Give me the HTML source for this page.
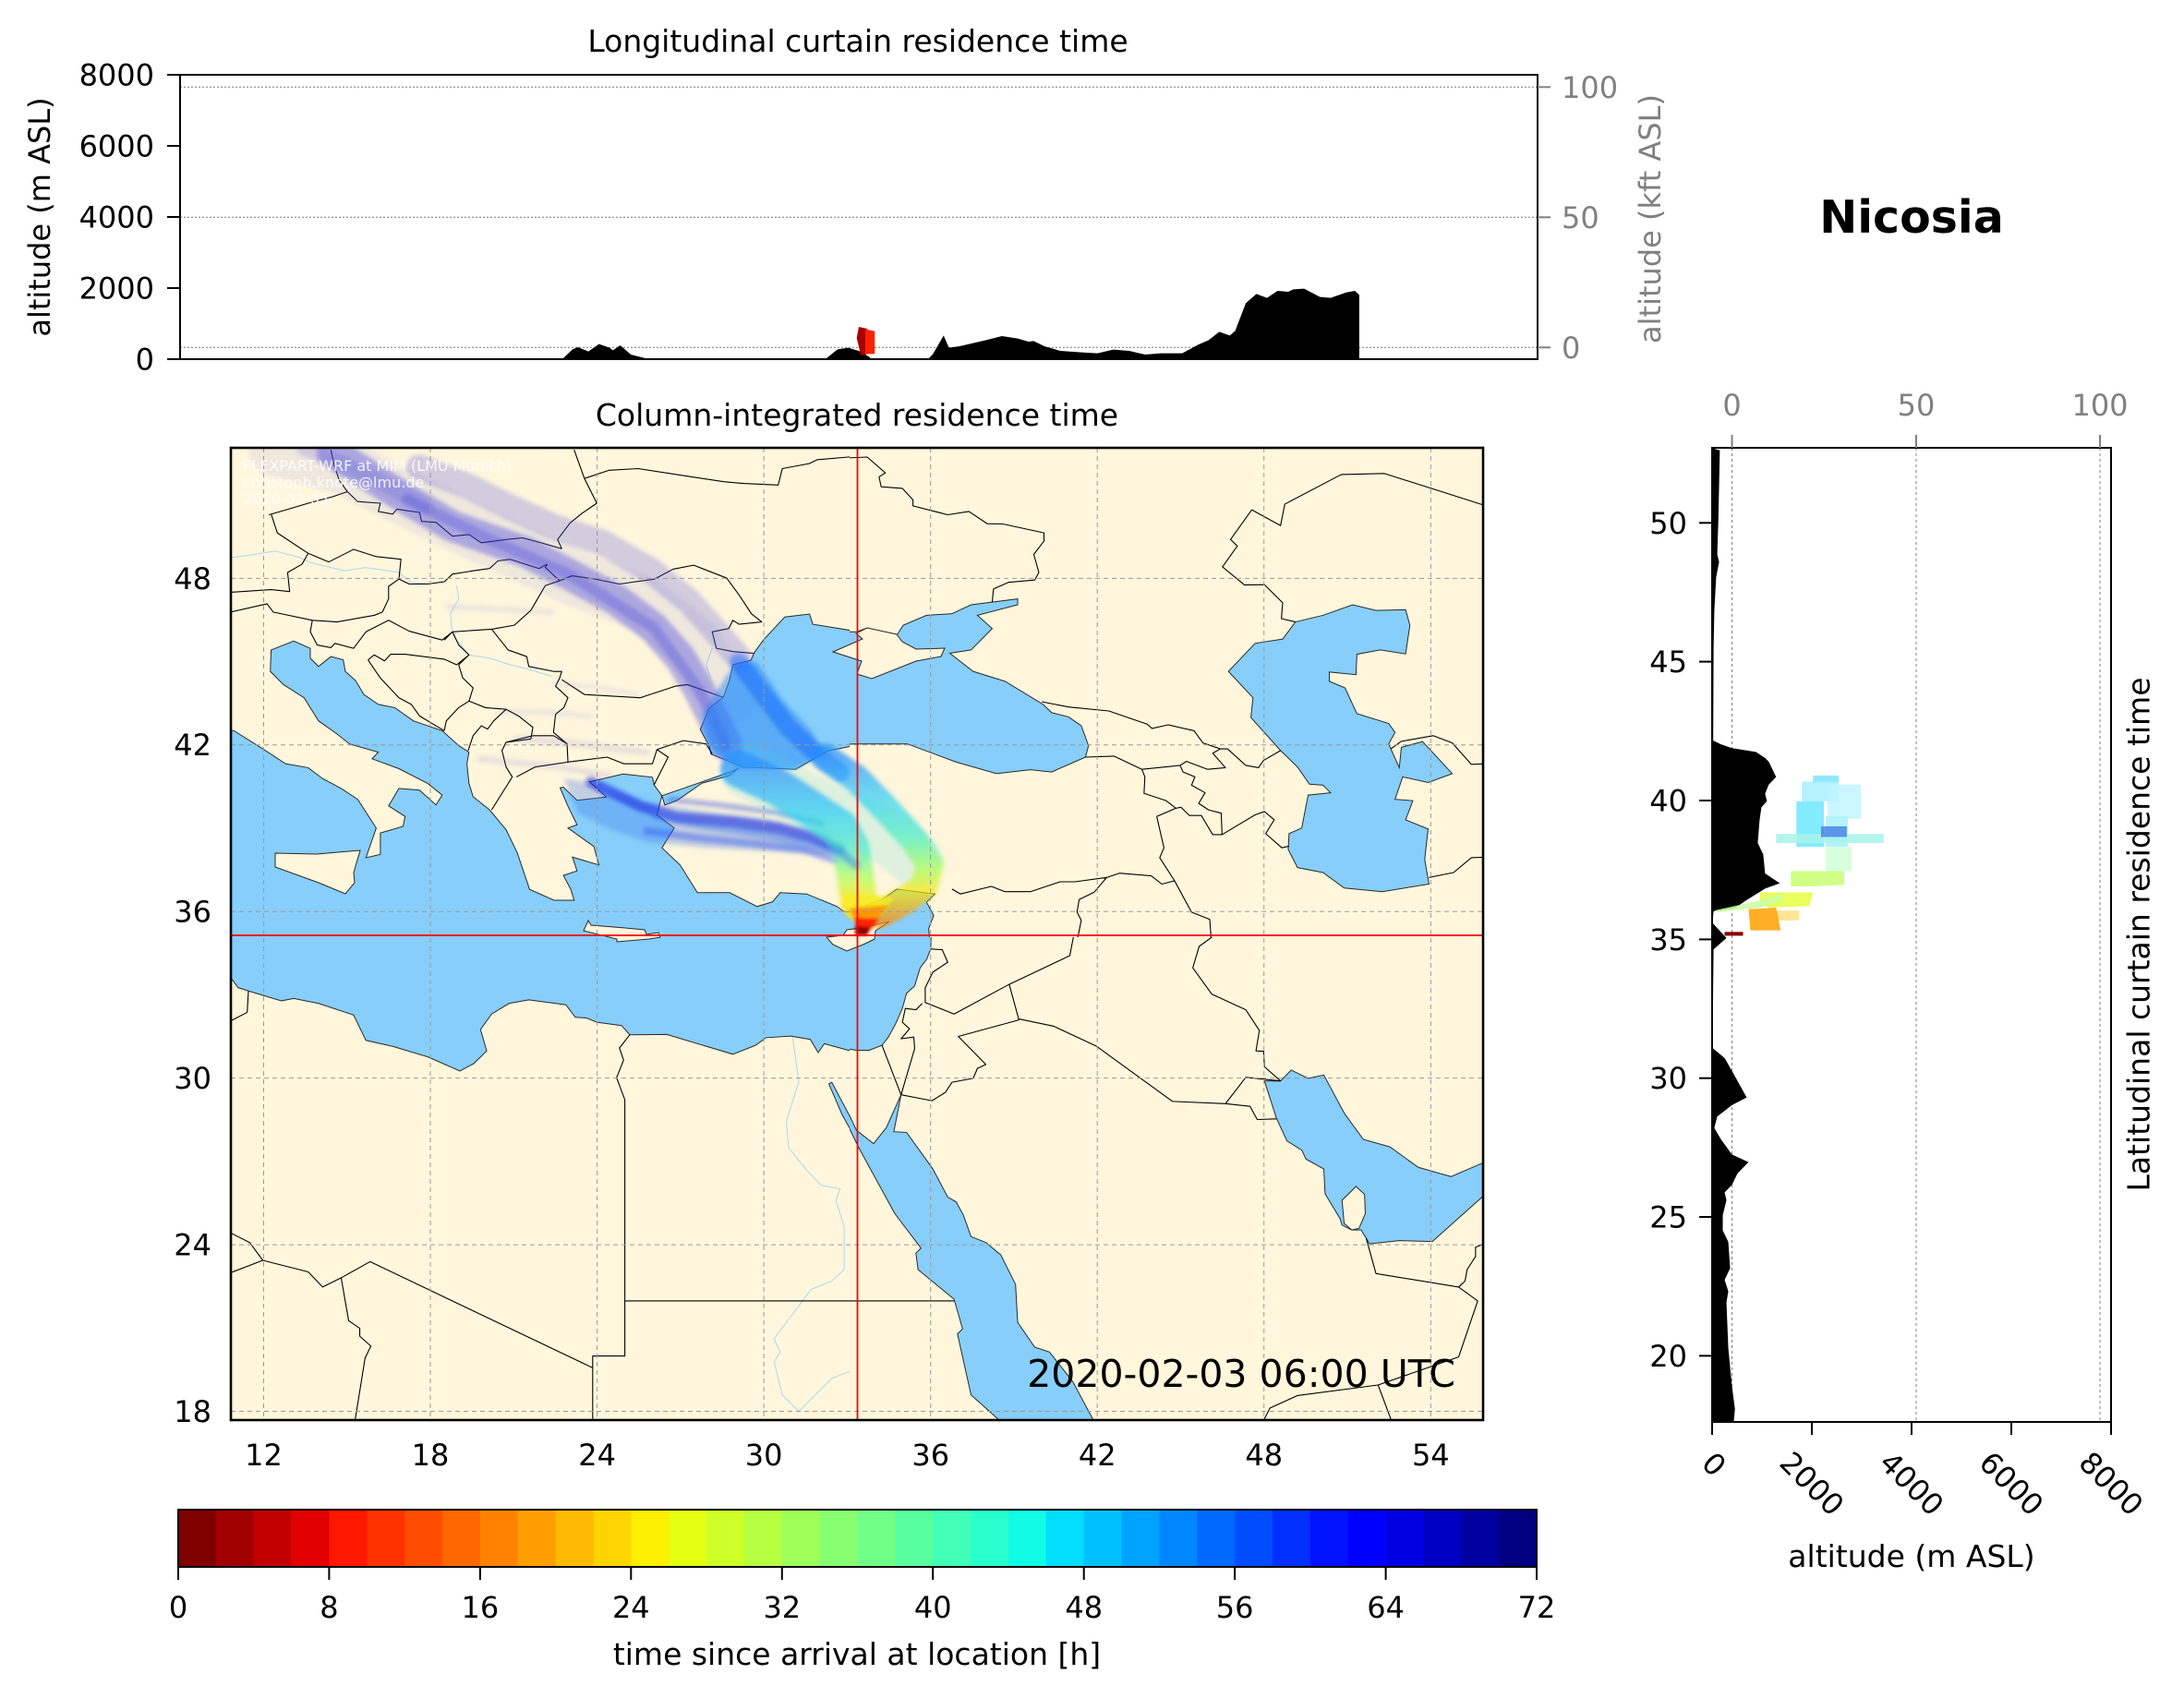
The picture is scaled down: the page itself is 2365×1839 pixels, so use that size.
<!DOCTYPE html>
<html><head><meta charset="utf-8"><style>
html,body{margin:0;padding:0;background:#fff;}
svg{display:block;font-family:"DejaVu Sans","Liberation Sans",sans-serif;}
.r *{vector-effect:non-scaling-stroke;}
.w{fill:#87CEFA;stroke:#2a2a2a;stroke-width:1;}
.l{fill:#FFF6DC;stroke:#2a2a2a;stroke-width:1;}
.b{fill:none;stroke:#000;stroke-width:1.1;stroke-linejoin:round;}
.rv{fill:none;stroke:#aad8ee;stroke-width:1;}
.p{fill:none;stroke-linecap:round;stroke-linejoin:round;}
</style></head><body>
<svg width="2365" height="1839" viewBox="0 0 2365 1839" xmlns="http://www.w3.org/2000/svg">
<defs>
<clipPath id="cA"><rect x="250" y="485" width="670" height="530"/></clipPath>
<clipPath id="cB"><rect x="920" y="485" width="686" height="530"/></clipPath>
<clipPath id="cC"><rect x="250" y="1015" width="670" height="523"/></clipPath>
<clipPath id="cD"><rect x="920" y="1015" width="686" height="523"/></clipPath>
<clipPath id="cM"><rect x="250" y="485" width="1356" height="1053"/></clipPath>
<filter id="soft" x="-10%" y="-10%" width="120%" height="120%"><feGaussianBlur stdDeviation="2.5"/></filter>
<filter id="soft2" x="-20%" y="-20%" width="140%" height="140%"><feGaussianBlur stdDeviation="1.5"/></filter>
<linearGradient id="gMain" gradientUnits="userSpaceOnUse" x1="0" y1="830" x2="0" y2="1000">
<stop offset="0" stop-color="#2890ff"/><stop offset="0.3" stop-color="#28d0f8"/><stop offset="0.55" stop-color="#50f0c0"/><stop offset="0.72" stop-color="#b0ff50"/><stop offset="0.86" stop-color="#ffe000"/><stop offset="1" stop-color="#ff8000"/></linearGradient>
<linearGradient id="gLoop" gradientUnits="userSpaceOnUse" x1="0" y1="820" x2="0" y2="995">
<stop offset="0" stop-color="#2090ff"/><stop offset="0.25" stop-color="#30d0f8"/><stop offset="0.5" stop-color="#50f0c0"/><stop offset="0.7" stop-color="#b0ff50"/><stop offset="0.85" stop-color="#ffe000"/><stop offset="1" stop-color="#ff9000"/></linearGradient>
</defs>

<!-- ============ TOP PANEL ============ -->
<text x="929" y="56" font-size="33" text-anchor="middle">Longitudinal curtain residence time</text>
<g stroke="#777" stroke-width="1" stroke-dasharray="2,2">
<line x1="195" y1="94.3" x2="1665" y2="94.3"/><line x1="195" y1="235.3" x2="1665" y2="235.3"/><line x1="195" y1="376.3" x2="1665" y2="376.3"/>
</g>
<g class="r" transform="scale(1.148106,0.333333)">
<path fill="#000" d="M170,1168 L530,1168 L540,1135 L545,1128 L555,1142 L565,1118 L575,1130 L578,1138 L585,1122 L595,1152 L610,1165 L612,1168 L778,1168 L790,1135 L800,1130 L810,1140 L820,1160 L822,1168 L875,1168 L880,1150 L890,1090 L895,1130 L905,1125 L930,1105 L945,1092 L960,1100 L970,1110 L975,1108 L985,1125 L1000,1140 L1020,1145 L1035,1148 L1050,1136 L1065,1140 L1080,1152 L1095,1148 L1115,1148 L1130,1120 L1140,1105 L1150,1078 L1160,1090 L1165,1075 L1175,985 L1185,955 L1195,968 L1205,945 L1215,948 L1220,940 L1230,938 L1245,965 L1255,968 L1270,950 L1278,945 L1282,958 L1282,1168 Z"/>
<polygon fill="#a80000" points="808,1098 810,1062 818,1068 818,1150 812,1155"/>
<polygon fill="#ff2000" points="816,1070 825,1076 825,1150 816,1150"/>
</g>
<rect x="195" y="81" width="1470" height="308" fill="none" stroke="#000" stroke-width="2"/>
<g stroke="#000" stroke-width="2">
<line x1="181" y1="81" x2="195" y2="81"/><line x1="181" y1="158" x2="195" y2="158"/><line x1="181" y1="235" x2="195" y2="235"/><line x1="181" y1="312" x2="195" y2="312"/><line x1="181" y1="389" x2="195" y2="389"/>
</g>
<g font-size="32" text-anchor="end">
<text x="167" y="92.5">8000</text><text x="167" y="169.5">6000</text><text x="167" y="246.5">4000</text><text x="167" y="323.5">2000</text><text x="167" y="400.5">0</text>
</g>
<g stroke="#808080" stroke-width="2">
<line x1="1665" y1="94.3" x2="1679" y2="94.3"/><line x1="1665" y1="235.3" x2="1679" y2="235.3"/><line x1="1665" y1="376.3" x2="1679" y2="376.3"/>
</g>
<g font-size="32" fill="#808080">
<text x="1691" y="106">100</text><text x="1691" y="247">50</text><text x="1691" y="388">0</text>
</g>
<text transform="translate(43,235) rotate(-90)" font-size="32" text-anchor="middle" dominant-baseline="central">altitude (m ASL)</text>
<text transform="translate(1787,237) rotate(-90)" font-size="32" fill="#808080" text-anchor="middle" dominant-baseline="central">altitude (kft ASL)</text>

<text x="2070" y="252" font-size="49" font-weight="bold" text-anchor="middle">Nicosia</text>

<!-- ============ MAP ============ -->
<text x="928" y="461" font-size="33" text-anchor="middle">Column-integrated residence time</text>
<rect x="250" y="485" width="1356" height="1053" fill="#FFF6DC"/>

<!-- Region A -->
<g clip-path="url(#cA)"><g class="r" transform="translate(240,470) scale(0.446429,0.357143)">
<polygon class="w" points="0,895 30,900 100,955 155,1000 210,1012 245,1045 290,1075 330,1108 375,1195 350,1285 385,1275 385,1210 440,1190 445,1160 405,1128 430,1075 480,1080 520,1125 535,1095 500,1060 430,1015 365,985 380,965 310,940 280,910 235,870 200,800 150,760 118,720 120,655 175,628 215,650 215,680 235,705 265,675 295,685 300,720 325,748 345,790 380,820 420,830 465,870 535,900 575,945 600,965 595,1000 600,1060 610,1100 650,1140 690,1200 717,1270 747,1381 806,1414 855,1414 847,1381 829,1339 862,1325 851,1283 915,1307 903,1251 840,1195 862,1185 840,1129 821,1073 829,1071 862,1111 933,1101 892,1055 974,1031 1045,1041 1049,1064 1068,1097 1056,1155 1098,1195 1068,1255 1112,1307 1154,1391 1232,1391 1299,1433 1336,1419 1355,1391 1419,1395 1493,1433 1508,1447 1538,1456 1700,1460 1700,1700 0,1700"/>
<polygon class="w" points="1292,663 1314,625 1366,555 1426,546 1434,577 1542,599 1700,595 1700,945 1665,943 1542,943 1471,961 1392,1017 1262,1010 1243,999 1187,971 1183,947 1161,896 1183,831 1217,798 1232,747 1240,700 1284,686"/>
<polygon class="w" points="1068,1097 1124,1073 1240,1022 1254,1013 1232,1036 1165,1059 1105,1111 1075,1125"/>
<path class="rv" d="M22,375 L80,365 L130,355 L190,375 L215,390 L300,415 L350,405 L430,420 L460,450 L500,455 L545,447 M570,460 L575,500 L555,545 L560,610 L600,670 L650,680 L700,700 L750,715 L800,735 M1190,650 L1175,700 L1185,740"/>
<path class="b" d="M265,48 L272,90 L285,140 L305,175 M115,245 L170,225 L210,210 L270,190 L305,175 L330,205 L385,210 L380,235 L415,243 L425,228 L480,238 L485,265 L520,268 L560,310 L600,305 L630,330 L690,320 L730,315 L775,330 L825,348 M120,242 L135,300 L210,362 L260,388 L320,350 L375,372 L435,380 L430,440 L405,462 L405,500 L390,540 M22,480 L120,472 L165,478 L160,420 L195,395 L210,362 M22,540 L110,515 L125,540 L220,565 L280,570 L370,550 L390,540 M430,440 L455,455 L500,455 L540,448 L560,425 L610,415 L650,408 L670,385 L700,380 L770,408 L790,395 M825,348 L815,320 L845,270 L875,240 L910,210 L880,135 L855,48 M880,135 L940,110 L1010,105 L1140,130 L1220,145 L1265,150 L1350,155 L1360,105 L1425,90 L1445,78 L1520,70 L1600,60 M790,395 L785,405 L820,445 L850,430 L905,440 L965,455 L1050,440 L1095,410 L1145,398 L1225,437 L1255,488 L1285,545 L1310,570 L1255,577 L1240,565 L1230,590 L1190,600 L1200,650 L1240,660 L1290,665 M820,445 L785,460 L750,535 L710,580 L655,592 L560,600 L540,625 M655,592 L695,655 L740,675 L745,705 L805,720 L825,720 L820,740 L810,765 L840,800 L830,830 L810,850 L805,905 L838,940 L840,995 M825,745 L880,790 L1015,800 L1100,765 L1130,760 L1215,798 M840,995 L935,980 L975,1000 L1045,1000 L1056,957 L1120,930 L1175,940 L1190,970 M1056,957 L1083,980 L1049,1064 M560,600 L575,640 L600,670 L575,700 L585,740 L610,770 L600,810 L575,830 L545,870 L540,900 M355,685 L370,670 L395,688 L410,668 L445,668 L540,683 L570,700 L600,670 M355,685 L385,740 L430,800 L460,820 L480,855 L540,900 M220,565 L215,600 L232,640 L265,648 L275,635 L320,650 L350,600 L405,565 L455,598 L535,625 L560,600 M598,960 L610,915 L630,885 L645,895 L660,870 L690,835 L720,855 L755,890 L750,925 L690,935 L680,960 L690,1010 L705,1040 L690,1070 L655,1140 M690,935 L755,915 L805,915 L838,940 M840,995 L760,1010 L715,1040 M600,810 L640,830 L690,835"/>
</g></g>

<!-- Region B -->
<g clip-path="url(#cB)"><g class="r" transform="translate(900,470) scale(0.459137,0.357143)">
<polygon class="w" points="-200,600 60,600 85,588 155,610 170,580 225,550 285,545 330,518 440,500 440,518 345,550 380,590 330,655 280,665 335,720 410,750 500,820 520,845 560,858 590,885 607,945 600,980 520,1025 470,1018 390,1030 295,995 180,940 70,940 -200,945"/>
<polygon class="w" points="1095,570 1160,550 1230,518 1285,535 1355,533 1365,580 1355,667 1295,655 1240,668 1238,730 1175,722 1175,750 1212,770 1240,848 1315,878 1330,905 1315,940 1340,1012 1345,950 1395,933 1465,1030 1408,1057 1348,1040 1330,1108 1372,1112 1355,1170 1408,1198 1400,1290 1410,1365 1300,1388 1210,1377 1160,1330 1100,1315 1078,1260 1080,1212 1110,1195 1125,1095 1178,1088 1160,1065 1128,1062 1100,1010 1060,960 990,860 995,800 937,720 1000,635 1065,622"/>
<polygon class="w" points="-200,1460 0,1447 60,1440 120,1412 155,1380 245,1395 225,1420 242,1460 230,1500 237,1600 -200,1600"/>
<path class="b" d="M0,75 L85,70 L128,118 L113,130 L118,160 L168,165 L193,200 L193,218 L275,245 L325,235 L368,272 L405,273 L502,300 L502,325 L478,365 L490,420 L480,443 L418,450 L383,470 L380,510 M1537,215 L1440,175 L1305,120 L1203,123 L1070,213 L1060,278 L992,230 L942,320 L958,340 L923,403 L975,458 L1022,457 L1065,512 L1062,560 L1095,570 M497,812 L560,828 L655,840 L745,880 L757,893 L795,882 L856,900 L877,937 L918,955 L935,955 L978,1005 L1008,1012 L1020,990 L1060,960 M600,980 L667,977 L733,1017 L823,1005 L838,993 L888,1017 L930,1012 L900,968 L918,955 M823,1005 L830,1025 L858,1040 L850,1065 L882,1088 L867,1120 L890,1140 L920,1150 L922,1215 L1000,1155 L1022,1145 L1045,1170 L1025,1212 L1063,1255 L1080,1250 M733,1017 L740,1040 L738,1090 L790,1112 L813,1135 L825,1132 L845,1157 L873,1157 L900,1215 L922,1215 M768,1160 L813,1135 M768,1160 L785,1255 L775,1285 L810,1355 L850,1450 L893,1472 L900,1600 M285,1380 L305,1395 L378,1372 L410,1388 L470,1388 L540,1358 L575,1358 L650,1345 L680,1332 L755,1340 L780,1365 L810,1355 M650,1345 L620,1390 L585,1412 L580,1450 L590,1475 L570,1600 M1410,1345 L1468,1330 L1510,1285 L1545,1283 M1320,955 L1345,932 L1420,915 L1465,937 L1510,1002 L1545,1000"/>
</g></g>

<!-- Region C -->
<g clip-path="url(#cC)"><g class="r" transform="translate(240,1000) scale(0.446429,0.357143)">
<polygon class="w" points="-100,-100 1700,-100 1700,388 1600,388 1520,385 1462,365 1447,392 1428,352 1380,342 1320,347 1295,370 1240,397 1080,337 990,338 970,310 910,300 885,287 858,285 835,247 745,232 697,243 655,275 628,322 643,387 612,425 578,448 500,405 415,373 350,355 320,278 235,243 175,228 145,235 65,205 40,195 22,165 -100,165"/>
<polygon class="w" points="1473,487 1480,482 1530,600 1552,632 1640,700 1640,800 1568,720 1505,580"/>
<path class="rv" d="M1385,345 L1400,480 L1370,600 L1375,680 L1420,750 L1455,795 L1500,805 L1490,840 L1510,920 L1510,1050 L1480,1085 L1430,1110 L1400,1160 L1340,1260 L1355,1300 L1340,1330 L1360,1430 L1400,1480 L1440,1430 L1480,1380 L1520,1360 L1600,1370"/>
<path class="b" d="M990,338 L965,378 L975,415 L958,468 L978,535 L978,1312 L900,1312 L900,1520 M978,1145 L1700,1145 M0,1070 L100,1022 L210,1057 L245,1103 L290,1075 L360,1026 L900,1348 M100,1022 L68,968 L0,925 M290,1075 L308,1205 L335,1228 L335,1252 L362,1282 L348,1318 L322,1520 M65,205 L62,270 L0,310"/>
</g></g>

<!-- Region D -->
<g clip-path="url(#cD)"><g class="r" transform="translate(900,1000) scale(0.459137,0.357143)">
<polygon class="w" points="-200,-100 240,-100 235,78 225,110 210,135 197,190 178,212 168,258 152,305 135,345 120,370 90,385 60,385 0,372 -200,372"/>
<polygon class="w" points="-10,483 5,483 35,560 60,628 100,668 130,620 165,520 148,632 178,634 240,745 275,830 295,845 312,885 330,950 365,968 400,1005 435,1095 440,1210 480,1285 515,1300 570,1390 620,1510 640,1600 400,1600 395,1505 330,1430 298,1245 310,1230 290,1140 205,1050 200,1000 212,985 150,880 65,680 20,560 -10,490"/>
<polygon class="w" points="1022,478 1060,478 1085,445 1125,470 1162,460 1210,575 1255,655 1318,678 1385,740 1462,768 1540,725 1700,650 1700,800 1540,825 1418,965 1340,962 1270,972 1262,955 1250,930 1228,930 1205,915 1200,895 1165,820 1162,745 1120,715 1110,688 1075,660 1050,590"/>
<polygon class="l" points="1210,910 1205,840 1238,798 1258,822 1260,880 1245,925 1228,930"/>
<path class="rv" d="M20,800 L30,900 L25,1000 L0,1080"/>
<path class="b" d="M235,78 L262,80 L275,118 L240,148 L222,195 L222,240 L290,275 L420,185 L563,98 L585,-50 M215,243 L200,262 L175,258 L168,300 L185,320 L165,350 L195,345 L197,380 L165,520 M120,370 L165,520 M165,520 L238,538 L270,512 L285,482 L335,470 L345,440 L365,428 L300,343 L443,293 L420,185 M443,290 L525,312 L625,372 L805,540 L930,547 L988,555 L1005,595 L1050,593 M930,547 L978,467 L1060,478 M1060,478 L1022,435 L1020,388 L1002,387 L1010,325 L978,262 L898,215 L853,135 L868,70 L900,40 L895,-50 M1262,955 L1285,1062 L1480,1103 L1495,1085 L1500,1050 L1520,1010 L1520,982 L1545,970 M1480,1103 L1525,1145 L1480,1315 L1290,1400 L1100,1432 L1035,1470 L1015,1520 M1290,1400 L1325,1520 M-100,1145 L290,1145"/>
</g></g>

<!-- islands (actual coords) -->
<g clip-path="url(#cM)">
<polygon class="l" points="298,924 343,925 390,921 383,945 384,956 374,968 345,956 298,939"/>
<polygon class="l" points="637,997 640,1002 677,1005 698,1007 700,1012 713,1010 715,1015 703,1017 668,1020 668,1017 632,1008"/>
<polygon class="l" points="895,1015 913,1013 917,1007 933,1005 963,998 948,1008 947,1017 937,1022 917,1030 902,1023"/>
<polygon class="l" points="902,706 934,692 927,686 939,680 971,687 977,695 992,703 1023,702 1019,711 992,716 944,735 928,730 933,716"/>
</g>

<!-- plume -->
<g clip-path="url(#cM)">
<g filter="url(#soft)">
<polyline class="p" stroke="#8c8ce0" stroke-width="60" stroke-opacity="0.14" points="300,487 374,506 441,541 530,584 624,627 700,656 753,699 789,756"/>
<polyline class="p" stroke="#6a6ae0" stroke-width="18" stroke-opacity="0.22" points="330,485 400,515 460,548"/>
<polyline class="p" stroke="#6060e0" stroke-width="28" stroke-opacity="0.28" points="454,506 508,527 552,549 598,570 653,588 705,618 747,652 778,687 800,712"/>
<polyline class="p" stroke="#4040e0" stroke-width="34" stroke-opacity="0.38" points="360,490 441,541 490,570 530,584 570,598 618,623 668,650 708,680 737,713 757,747 770,773 787,807"/>
<polyline class="p" stroke="#2a2ae0" stroke-width="12" stroke-opacity="0.25" points="441,541 530,584 618,623 708,680 757,747 787,807"/>
<polyline class="p" stroke="#8080e0" stroke-width="6" stroke-opacity="0.15" points="485,657 540,660 597,663"/>
<polyline class="p" stroke="#8080e0" stroke-width="6" stroke-opacity="0.14" points="540,770 600,772 640,776"/>
<polyline class="p" stroke="#7070d8" stroke-width="7" stroke-opacity="0.16" points="520,822 600,830 660,840"/>
<polyline class="p" stroke="#8080e0" stroke-width="5" stroke-opacity="0.14" points="600,740 650,745 690,752"/>
<polyline class="p" stroke="#7070d8" stroke-width="8" stroke-opacity="0.15" points="560,800 620,805 700,815"/>
<polygon fill="#2a8af5" fill-opacity="0.5" points="760,773 790,727 800,717 820,717 847,757 880,793 893,817 860,833 800,833 767,807"/>
<polyline class="p" stroke="#1466ff" stroke-width="20" stroke-opacity="0.5" points="800,717 827,753 853,787 880,813 910,837"/>
<polygon fill="#3a70f0" fill-opacity="0.3" points="611,843 650,850 700,868 760,878 830,886 900,903 905,927 830,922 760,918 700,912 660,898 625,880"/>
<polyline class="p" stroke="#1020e0" stroke-width="12" stroke-opacity="0.55" points="640,847 693,873 733,885 793,890 843,897 880,907 910,920"/>
<polyline class="p" stroke="#2a50f0" stroke-width="8" stroke-opacity="0.42" points="700,900 760,908 820,914 870,920 905,932"/>
<polyline class="p" stroke="#2040e0" stroke-width="6" stroke-opacity="0.38" points="725,866 780,872 840,880 890,892"/>
<polyline class="p" stroke="#40d8f0" stroke-width="60" stroke-opacity="0.18" points="810,835 860,860 910,885 960,905 990,930"/>
<polyline class="p" stroke="url(#gMain)" stroke-width="40" stroke-opacity="0.7" points="800,833 843,853 880,877 910,897 922,920 926,947 930,975"/>
<polyline class="p" stroke="url(#gLoop)" stroke-width="30" stroke-opacity="0.7" points="893,820 927,843 960,877 990,910 1007,937 1000,960 977,977 953,990"/>
<polyline class="p" stroke="#3070f0" stroke-width="10" stroke-opacity="0.4" points="710,883 760,893 827,903 877,913 910,923 927,937"/>
</g>
<g filter="url(#soft2)">
<polygon fill="#f4f020" fill-opacity="0.75" points="914,968 968,972 955,990 930,1002 915,990"/>
<polygon fill="#ff9000" fill-opacity="0.9" points="920,984 962,980 946,1000 930,1010"/>
<polygon fill="#ff2000" points="925,994 952,995 940,1010 928,1011"/>
<polygon fill="#900000" points="926,1003 942,1004 939,1013 926,1013"/>
</g>
</g>

<!-- gridlines -->
<g stroke="#9a9a9a" stroke-width="1" stroke-dasharray="5,4">
<line x1="285.5" y1="485" x2="285.5" y2="1538"/><line x1="466" y1="485" x2="466" y2="1538"/><line x1="646.6" y1="485" x2="646.6" y2="1538"/><line x1="827.1" y1="485" x2="827.1" y2="1538"/><line x1="1007.7" y1="485" x2="1007.7" y2="1538"/><line x1="1188.2" y1="485" x2="1188.2" y2="1538"/><line x1="1368.7" y1="485" x2="1368.7" y2="1538"/><line x1="1549.3" y1="485" x2="1549.3" y2="1538"/>
<line x1="250" y1="626.4" x2="1606" y2="626.4"/><line x1="250" y1="806.8" x2="1606" y2="806.8"/><line x1="250" y1="987.2" x2="1606" y2="987.2"/><line x1="250" y1="1167.6" x2="1606" y2="1167.6"/><line x1="250" y1="1348.1" x2="1606" y2="1348.1"/><line x1="250" y1="1528.5" x2="1606" y2="1528.5"/>
</g>
<!-- crosshair -->
<line x1="928.5" y1="485" x2="928.5" y2="1538" stroke="#ff0000" stroke-width="1.8"/>
<line x1="250" y1="1013" x2="1606" y2="1013" stroke="#ff0000" stroke-width="1.8"/>

<g font-size="16" fill="#ffffff" fill-opacity="0.85">
<text x="263" y="510">FLEXPART-WRF at MIM (LMU Munich)</text>
<text x="263" y="528">christoph.knote@lmu.de</text>
<text x="263" y="546">2020-02-05</text>
</g>
<text x="1576" y="1502" font-size="41" text-anchor="end">2020-02-03 06:00 UTC</text>
<rect x="250" y="485" width="1356" height="1053" fill="none" stroke="#000" stroke-width="2.6"/>

<g font-size="32" text-anchor="middle">
<text x="285.5" y="1587">12</text><text x="466" y="1587">18</text><text x="646.6" y="1587">24</text><text x="827.1" y="1587">30</text><text x="1007.7" y="1587">36</text><text x="1188.2" y="1587">42</text><text x="1368.7" y="1587">48</text><text x="1549.3" y="1587">54</text>
</g>
<g font-size="32" text-anchor="end">
<text x="229" y="638">48</text><text x="229" y="818">42</text><text x="229" y="998.5">36</text><text x="229" y="1179">30</text><text x="229" y="1359.5">24</text><text x="229" y="1540">18</text>
</g>

<!-- ============ COLORBAR ============ -->
<g>
<rect x="193" y="1635" width="41.2" height="62" fill="#800000"/>
<rect x="233.9" y="1635" width="41.2" height="62" fill="#a10000"/>
<rect x="274.7" y="1635" width="41.2" height="62" fill="#c20000"/>
<rect x="315.6" y="1635" width="41.2" height="62" fill="#e30000"/>
<rect x="356.4" y="1635" width="41.2" height="62" fill="#ff1700"/>
<rect x="397.3" y="1635" width="41.2" height="62" fill="#ff3200"/>
<rect x="438.2" y="1635" width="41.2" height="62" fill="#ff4d00"/>
<rect x="479" y="1635" width="41.2" height="62" fill="#ff6800"/>
<rect x="519.9" y="1635" width="41.2" height="62" fill="#ff8300"/>
<rect x="560.7" y="1635" width="41.2" height="62" fill="#ff9e00"/>
<rect x="601.6" y="1635" width="41.2" height="62" fill="#ffb900"/>
<rect x="642.5" y="1635" width="41.2" height="62" fill="#ffd400"/>
<rect x="683.3" y="1635" width="41.2" height="62" fill="#fcef00"/>
<rect x="724.2" y="1635" width="41.2" height="62" fill="#e5ff12"/>
<rect x="765.1" y="1635" width="41.2" height="62" fill="#cdff29"/>
<rect x="805.9" y="1635" width="41.2" height="62" fill="#b6ff41"/>
<rect x="846.8" y="1635" width="41.2" height="62" fill="#9eff58"/>
<rect x="887.6" y="1635" width="41.2" height="62" fill="#87ff70"/>
<rect x="928.5" y="1635" width="41.2" height="62" fill="#70ff87"/>
<rect x="969.4" y="1635" width="41.2" height="62" fill="#58ff9e"/>
<rect x="1010.2" y="1635" width="41.2" height="62" fill="#41ffb6"/>
<rect x="1051.1" y="1635" width="41.2" height="62" fill="#29ffcd"/>
<rect x="1091.9" y="1635" width="41.2" height="62" fill="#12fbe5"/>
<rect x="1132.8" y="1635" width="41.2" height="62" fill="#00defc"/>
<rect x="1173.7" y="1635" width="41.2" height="62" fill="#00c1ff"/>
<rect x="1214.5" y="1635" width="41.2" height="62" fill="#00a4ff"/>
<rect x="1255.4" y="1635" width="41.2" height="62" fill="#0087ff"/>
<rect x="1296.2" y="1635" width="41.2" height="62" fill="#006aff"/>
<rect x="1337.1" y="1635" width="41.2" height="62" fill="#004dff"/>
<rect x="1378" y="1635" width="41.2" height="62" fill="#002fff"/>
<rect x="1418.8" y="1635" width="41.2" height="62" fill="#0012ff"/>
<rect x="1459.7" y="1635" width="41.2" height="62" fill="#0000ff"/>
<rect x="1500.6" y="1635" width="41.2" height="62" fill="#0000e3"/>
<rect x="1541.4" y="1635" width="41.2" height="62" fill="#0000c2"/>
<rect x="1582.3" y="1635" width="41.2" height="62" fill="#0000a1"/>
<rect x="1623.1" y="1635" width="40.9" height="62" fill="#000080"/>
</g>
<rect x="193" y="1635" width="1471" height="62" fill="none" stroke="#000" stroke-width="2"/>
<g stroke="#000" stroke-width="2">
<line x1="193" y1="1697" x2="193" y2="1711"/><line x1="356.4" y1="1697" x2="356.4" y2="1711"/><line x1="519.9" y1="1697" x2="519.9" y2="1711"/><line x1="683.3" y1="1697" x2="683.3" y2="1711"/><line x1="846.8" y1="1697" x2="846.8" y2="1711"/><line x1="1010.2" y1="1697" x2="1010.2" y2="1711"/><line x1="1173.7" y1="1697" x2="1173.7" y2="1711"/><line x1="1337.1" y1="1697" x2="1337.1" y2="1711"/><line x1="1500.6" y1="1697" x2="1500.6" y2="1711"/><line x1="1664" y1="1697" x2="1664" y2="1711"/>
</g>
<g font-size="32" text-anchor="middle">
<text x="193" y="1752">0</text><text x="356.4" y="1752">8</text><text x="519.9" y="1752">16</text><text x="683.3" y="1752">24</text><text x="846.8" y="1752">32</text><text x="1010.2" y="1752">40</text><text x="1173.7" y="1752">48</text><text x="1337.1" y="1752">56</text><text x="1500.6" y="1752">64</text><text x="1664" y="1752">72</text>
</g>
<text x="928" y="1803" font-size="33" text-anchor="middle">time since arrival at location [h]</text>

<!-- ============ RIGHT PANEL ============ -->
<g stroke="#808080" stroke-width="1" stroke-dasharray="3,3">
<line x1="1875.5" y1="485" x2="1875.5" y2="1540"/><line x1="2075" y1="485" x2="2075" y2="1540"/><line x1="2274" y1="485" x2="2274" y2="1540"/>
</g>
<g class="r" transform="translate(1740,440) scale(0.398566,0.822707)">
<path fill="#000" d="M285,55 L307,58 L303,150 L300,195 L305,205 L297,225 L292,270 L290,320 L289,440 L310,445 L340,450 L405,455 L430,463 L440,468 L460,488 L440,498 L430,510 L435,520 L420,528 L415,545 L410,575 L425,590 L430,615 L470,628 L430,635 L380,650 L350,660 L290,665 L287,680 L325,700 L290,715 L287,845 L300,850 L320,858 L340,875 L380,910 L340,920 L300,935 L292,950 L310,965 L340,985 L385,995 L355,1010 L340,1025 L320,1035 L325,1045 L315,1065 L315,1085 L330,1100 L335,1135 L320,1150 L330,1165 L325,1180 L330,1240 L340,1290 L348,1320 L345,1337 L285,1337 Z"/>
<g fill-opacity="0.85">
<rect x="560" y="486" width="70" height="10" fill="#80e4ff"/>
<rect x="530" y="494" width="100" height="26" fill="#a8eeff"/>
<rect x="600" y="498" width="90" height="45" fill="#c0f5ff"/>
<rect x="515" y="520" width="75" height="60" fill="#6ee8ff"/>
<rect x="595" y="540" width="60" height="40" fill="#a8f2ff"/>
<rect x="460" y="563" width="292" height="12" fill="#a8f2ea"/>
<rect x="582" y="553" width="70" height="14" fill="#4a84e6"/>
<rect x="595" y="580" width="70" height="32" fill="#d0ffd8"/>
<polygon fill="#c8ff70" points="500,612 645,612 645,630 560,632 500,632"/>
<polygon fill="#e4ff40" points="415,640 560,640 550,658 440,660 415,652"/>
<polygon fill="#c8ffa0" points="290,664 420,650 470,642 480,650 420,660 300,666"/>
<rect x="460" y="664" width="62" height="13" fill="#ffe080"/>
<polygon fill="#ffa000" points="385,662 460,660 472,690 390,690"/>
</g>
<rect x="320" y="692" width="50" height="5" fill="#8b0000"/>
</g>
<rect x="1854" y="485" width="432" height="1055" fill="none" stroke="#000" stroke-width="2"/>
<g stroke="#808080" stroke-width="2">
<line x1="1875.5" y1="471" x2="1875.5" y2="485"/><line x1="2075" y1="471" x2="2075" y2="485"/><line x1="2274" y1="471" x2="2274" y2="485"/>
</g>
<g font-size="32" fill="#808080" text-anchor="middle">
<text x="1875.5" y="450">0</text><text x="2075" y="450">50</text><text x="2274" y="450">100</text>
</g>
<g stroke="#000" stroke-width="2">
<line x1="1840" y1="566.3" x2="1854" y2="566.3"/><line x1="1840" y1="716.6" x2="1854" y2="716.6"/><line x1="1840" y1="867" x2="1854" y2="867"/><line x1="1840" y1="1017.4" x2="1854" y2="1017.4"/><line x1="1840" y1="1167.7" x2="1854" y2="1167.7"/><line x1="1840" y1="1318" x2="1854" y2="1318"/><line x1="1840" y1="1468.4" x2="1854" y2="1468.4"/>
<line x1="1854" y1="1540" x2="1854" y2="1554"/><line x1="1962" y1="1540" x2="1962" y2="1554"/><line x1="2070" y1="1540" x2="2070" y2="1554"/><line x1="2178" y1="1540" x2="2178" y2="1554"/><line x1="2286" y1="1540" x2="2286" y2="1554"/>
</g>
<g font-size="32" text-anchor="end">
<text x="1827" y="578">50</text><text x="1827" y="728">45</text><text x="1827" y="878.5">40</text><text x="1827" y="1029">35</text><text x="1827" y="1179">30</text><text x="1827" y="1329.5">25</text><text x="1827" y="1480">20</text>
</g>
<g font-size="32" text-anchor="middle" dominant-baseline="central">
<text transform="translate(1856,1586) rotate(45)">0</text>
<text transform="translate(1962,1607) rotate(45)">2000</text>
<text transform="translate(2070,1607) rotate(45)">4000</text>
<text transform="translate(2178,1607) rotate(45)">6000</text>
<text transform="translate(2286,1607) rotate(45)">8000</text>
</g>
<text x="2070" y="1697" font-size="33" text-anchor="middle">altitude (m ASL)</text>
<text transform="translate(2316,1012) rotate(-90)" font-size="33" text-anchor="middle" dominant-baseline="central">Latitudinal curtain residence time</text>
</svg>
</body></html>
